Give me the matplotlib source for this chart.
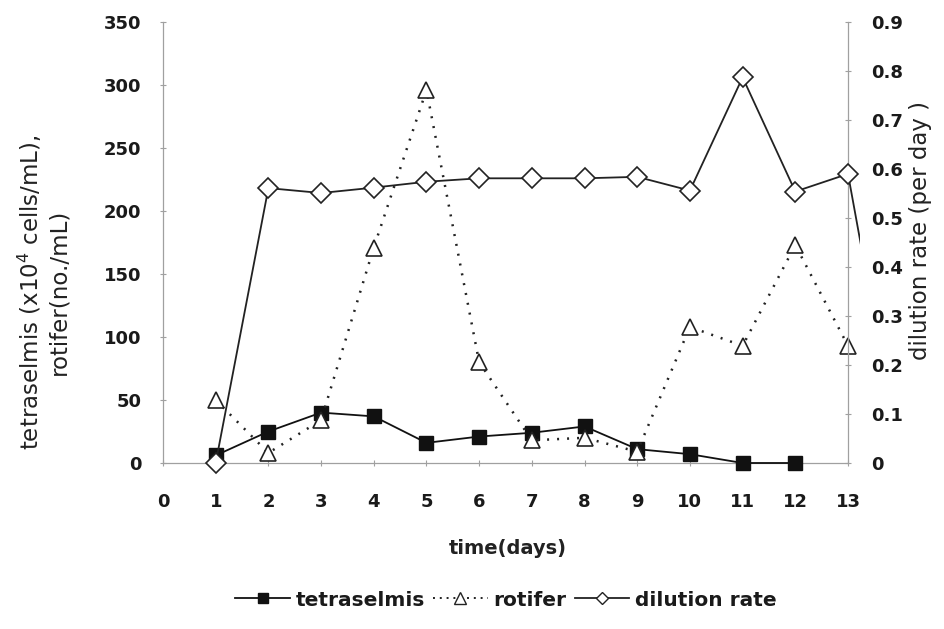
import matplotlib
matplotlib.use("Agg")
import matplotlib.pyplot as plt
from matplotlib.patches import Rectangle
from matplotlib.lines import Line2D

plt.rcParams['font.family'] = ['DejaVu Sans']

# daily observations
days_tetra = [1, 2, 3, 4, 5, 6, 7, 8, 9, 10, 11, 12]
tetraselmis = [6, 25, 40, 37, 16, 21, 24, 29, 11, 7, 0, 0]

days_rotifer = [1, 2, 3, 4, 5, 6, 7, 8, 9, 10, 11, 12, 13]
rotifer = [50, 8, 34, 171, 296, 80, 18, 20, 9, 108, 93, 173, 93]

days_dilution = [1, 2, 3, 4, 5, 6, 7, 8, 9, 10, 11, 12, 13, 14]
dilution = [0.0, 0.561, 0.551, 0.562, 0.574, 0.581, 0.581, 0.581, 0.584,
            0.556, 0.787, 0.554, 0.59, 0.0]

x_ticks = list(range(0, 14))
left_ticks = [0, 50, 100, 150, 200, 250, 300, 350]
right_ticks = [0, 0.1, 0.2, 0.3, 0.4, 0.5, 0.6, 0.7, 0.8, 0.9]
right_tick_labels = ['0', '0.1', '0.2', '0.3', '0.4', '0.5', '0.6', '0.7', '0.8', '0.9']

W, H = 945, 629
fig = plt.figure(figsize=(W / 100, H / 100), dpi=100)
ax = fig.add_axes([163 / W, 1 - 463 / H, 685 / W, 441 / H])
ax2 = ax.twinx()

spine_col = '#a0a0a0'
for a in (ax, ax2):
    for s in a.spines.values():
        s.set_visible(False)

ax.set_xlim(0, 13)
ax.set_ylim(0, 350)
ax2.set_ylim(0, 0.9)

# axis lines drawn in light grey
for a, side in ((ax, 'left'), (ax, 'bottom'), (ax2, 'right')):
    a.spines[side].set_visible(True)
    a.spines[side].set_color(spine_col)
    a.spines[side].set_linewidth(0.9)

ax.set_xticks(x_ticks)
ax.set_yticks(left_ticks)
ax2.set_yticks(right_ticks)
ax2.set_yticklabels(right_tick_labels)

tick_kw = dict(direction='inout', length=5, width=0.8, color=spine_col,
               labelcolor='#1a1a1a', labelsize=13)
ax.tick_params(axis='x', pad=19, **tick_kw)
ax.tick_params(axis='y', pad=13, **tick_kw)
ax2.tick_params(axis='y', pad=14, **tick_kw)
for lab in ax.get_xticklabels() + ax.get_yticklabels() + ax2.get_yticklabels():
    lab.set_fontweight('bold')

ax.plot(days_tetra, tetraselmis, color='#111111', lw=1.3, marker='s',
        markersize=9.5, markerfacecolor='#111111', markeredgecolor='#111111',
        zorder=3, clip_on=False)
ax.plot(days_rotifer, rotifer, color='#222222', lw=1.8, linestyle=(0, (0.8, 3.2)),
        marker='^', markersize=12, markerfacecolor='white',
        markeredgecolor='#222222', markeredgewidth=1.2, zorder=4, clip_on=False)

line_d, = ax2.plot(days_dilution, dilution, color='#222222', lw=1.3, marker='D',
                   markersize=10, markerfacecolor='white',
                   markeredgecolor='#222222', markeredgewidth=1.2, zorder=5)
clip = Rectangle((0, -0.05), 1.0175, 1.1, transform=ax2.transAxes)
line_d.set_clip_path(clip)

fig.text(43 / W, 1 - 292 / H,
         'tetraselmis (x10$^4$ cells/mL),\nrotifer(no./mL)',
         rotation=90, ha='center', va='center', multialignment='center',
         fontsize=16.5, color='#222222', linespacing=1.2)
fig.text(921 / W, 1 - 231 / H, 'dilution rate (per day )', rotation=90,
         ha='center', va='center', fontsize=16.5, color='#222222')
fig.text(508 / W, 1 - 549 / H, 'time(days)', ha='center', va='center',
         fontsize=14, fontweight='bold', color='#222222')

handles = [
    Line2D([], [], color='#111111', lw=1.3, marker='s', markersize=7,
           markerfacecolor='#111111'),
    Line2D([], [], color='#222222', lw=1.4, linestyle=(0, (1, 2.5)), marker='^',
           markersize=8, markerfacecolor='white', markeredgecolor='#222222'),
    Line2D([], [], color='#222222', lw=1.3, marker='D', markersize=6.5,
           markerfacecolor='white', markeredgecolor='#222222'),
]
fig.legend(handles, ['tetraselmis', 'rotifer', 'dilution rate'], loc='center',
           bbox_to_anchor=(506 / W, 1 - 600 / H), ncol=3, frameon=False,
           prop={'weight': 'bold', 'size': 14.5}, handlelength=2.7,
           columnspacing=0.4, handletextpad=0.3, labelcolor='#1a1a1a')

fig.savefig('out.png', dpi=100)
